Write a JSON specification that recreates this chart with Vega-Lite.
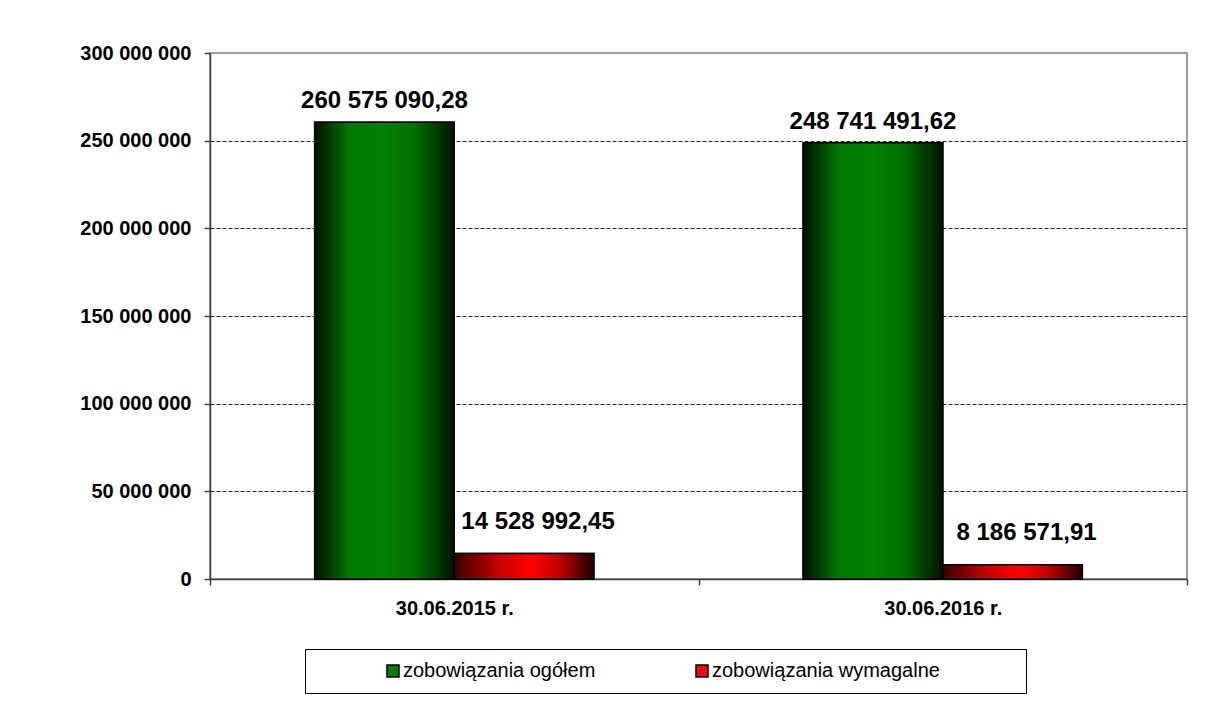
{
  "$schema": "https://vega.github.io/schema/vega-lite/v6.json",
  "width": 977,
  "height": 526,
  "autosize": {"type": "none"},
  "padding": {"left": 210, "top": 53, "right": 28, "bottom": 122},
  "background": "white",
  "config": {
    "locale": {"number": {"decimal": ",", "thousands": " ", "grouping": [3], "currency": ["", " zł"]}},
    "font": "Liberation Sans",
    "view": {"stroke": "#808080", "strokeWidth": 1.5}
  },
  "data": {
    "values": [
      {"date": "30.06.2015 r.", "series": "zobowiązania ogółem", "value": 260575090.28},
      {"date": "30.06.2015 r.", "series": "zobowiązania wymagalne", "value": 14528992.45},
      {"date": "30.06.2016 r.", "series": "zobowiązania ogółem", "value": 248741491.62},
      {"date": "30.06.2016 r.", "series": "zobowiązania wymagalne", "value": 8186571.91}
    ]
  },
  "encoding": {
    "x": {
      "field": "date",
      "type": "nominal",
      "scale": {"paddingInner": 0, "paddingOuter": 0},
      "axis": {
        "title": null,
        "labelAngle": 0,
        "tickBand": "extent",
        "tickSize": 6,
        "tickColor": "#404040",
        "tickWidth": 1.5,
        "domainColor": "#404040",
        "domainWidth": 1.5,
        "labelPadding": 13,
        "labelFont": "Liberation Sans",
        "labelFontSize": 20,
        "labelFontWeight": "bold",
        "labelColor": "black",
        "grid": false
      }
    },
    "xOffset": {
      "field": "series",
      "type": "nominal",
      "sort": ["zobowiązania ogółem", "zobowiązania wymagalne"],
      "scale": {"paddingInner": 0, "paddingOuter": 0.75}
    },
    "y": {
      "field": "value",
      "type": "quantitative",
      "scale": {"domain": [0, 300000000], "nice": false},
      "axis": {
        "title": null,
        "values": [0, 50000000, 100000000, 150000000, 200000000, 250000000, 300000000],
        "format": ",d",
        "tickSize": 6,
        "tickColor": "#404040",
        "tickWidth": 1.5,
        "domainColor": "#404040",
        "domainWidth": 1.5,
        "labelPadding": 13,
        "labelFont": "Liberation Sans",
        "labelFontSize": 20,
        "labelFontWeight": "bold",
        "labelColor": "black",
        "grid": true,
        "gridColor": "black",
        "gridDash": [4, 2],
        "gridWidth": 1,
        "gridOpacity": {"condition": {"test": "datum.value >= 300000000", "value": 0}, "value": 0.85}
      }
    }
  },
  "layer": [
    {
      "mark": {"type": "bar", "stroke": "black", "strokeWidth": 1.5},
      "encoding": {
        "color": {
          "field": "series",
          "type": "nominal",
          "scale": {"domain": ["zobowiązania ogółem", "zobowiązania wymagalne"], "range": ["#008000", "#ff0000"]},
          "legend": {
            "orient": "none",
            "legendX": 95,
            "legendY": 596,
            "direction": "horizontal",
            "title": "\u00a0",
            "titleOrient": "right",
            "titlePadding": 74,
            "titleFontSize": 20,
            "strokeColor": "black",
            "padding": 12,
            "symbolOffset": 66,
            "symbolType": "square",
            "symbolSize": 144,
            "symbolStrokeColor": "black",
            "symbolStrokeWidth": 1.5,
            "labelFont": "Liberation Sans",
            "labelFontSize": 20,
            "labelColor": "black",
            "labelOffset": 0,
            "labelLimit": 500,
            "columnPadding": 30
          }
        }
      }
    },
    {
      "transform": [{"filter": "datum.series == 'zobowiązania ogółem'"}],
      "mark": {
        "type": "bar",
        "stroke": "black",
        "strokeWidth": 1.5,
        "fill": {
          "gradient": "linear", "x1": 0, "y1": 0, "x2": 1, "y2": 0,
          "stops": [
            {"offset": 0, "color": "#001000"},
            {"offset": 0.25, "color": "#007a00"},
            {"offset": 0.5, "color": "#008000"},
            {"offset": 0.72, "color": "#007000"},
            {"offset": 1, "color": "#001000"}
          ]
        }
      }
    },
    {
      "transform": [{"filter": "datum.series == 'zobowiązania wymagalne'"}],
      "mark": {
        "type": "bar",
        "stroke": "black",
        "strokeWidth": 1.5,
        "fill": {
          "gradient": "linear", "x1": 0, "y1": 0, "x2": 1, "y2": 0,
          "stops": [
            {"offset": 0, "color": "#3a0000"},
            {"offset": 0.3, "color": "#c00000"},
            {"offset": 0.55, "color": "#ff0000"},
            {"offset": 0.75, "color": "#c00000"},
            {"offset": 1, "color": "#1a0000"}
          ]
        }
      }
    },
    {
      "transform": [{"filter": "datum.series == 'zobowiązania ogółem'"}],
      "mark": {"type": "text", "baseline": "alphabetic", "dy": -14, "fontSize": 24, "fontWeight": "bold", "color": "black", "font": "Liberation Sans"},
      "encoding": {"text": {"field": "value", "type": "quantitative", "format": ",.2f"}}
    },
    {
      "transform": [{"filter": "datum.series == 'zobowiązania wymagalne'"}],
      "mark": {"type": "text", "baseline": "alphabetic", "dx": 14, "dy": -25, "fontSize": 24, "fontWeight": "bold", "color": "black", "font": "Liberation Sans"},
      "encoding": {"text": {"field": "value", "type": "quantitative", "format": ",.2f"}}
    }
  ]
}
